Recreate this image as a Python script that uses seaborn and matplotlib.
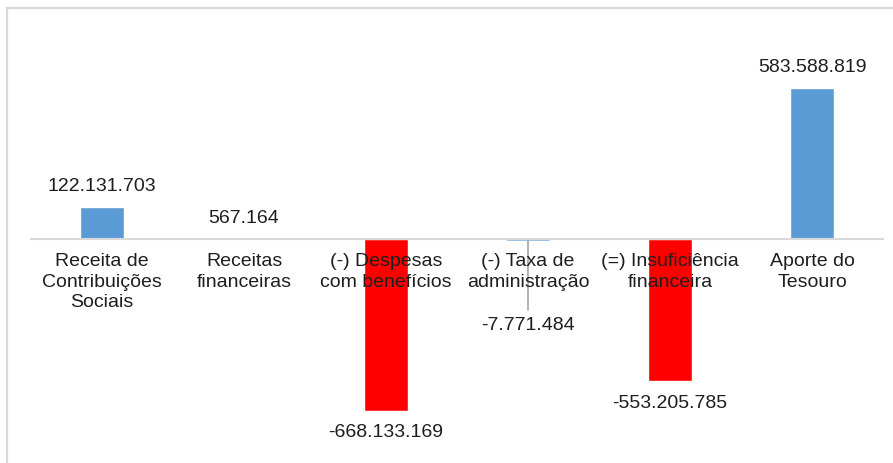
import matplotlib
matplotlib.use("Agg")
import matplotlib.pyplot as plt
import seaborn as sns
from matplotlib.patches import Rectangle

# dados do gráfico
categorias = [
    "Receita de Contribuições Sociais",
    "Receitas financeiras",
    "(-) Despesas com benefícios",
    "(-) Taxa de administração",
    "(=) Insuficiência financeira",
    "Aporte do Tesouro",
]
rotulos = [
    "Receita de\nContribuições\nSociais",
    "Receitas\nfinanceiras",
    "(-) Despesas\ncom benefícios",
    "(-) Taxa de\nadministração",
    "(=) Insuficiência\nfinanceira",
    "Aporte do\nTesouro",
]
valores = [122131703, 567164, -668133169, -7771484, -553205785, 583588819]
cores = ["#5B9BD5", "#5B9BD5", "#FF0000", "#5B9BD5", "#FF0000", "#5B9BD5"]

sns.set_theme(style="white")
plt.rcParams["font.family"] = ["Liberation Sans", "DejaVu Sans"]
cor_texto = "#1e1e1e"

fig = plt.figure(figsize=(8.93, 4.64), dpi=100)
ax = fig.add_axes([0, 0, 1, 1])

sns.barplot(x=categorias, y=valores, hue=categorias, palette=cores,
            width=0.31, saturation=1, legend=False, ax=ax)
ax.set_axisbelow(False)
ax.xaxis.set_zorder(5)

# escala igual à do original
px_cat = 142.0
xmin = -102 / px_cat
ax.set_xlim(xmin, xmin + 893 / px_cat)
px_por_m = 0.258
ax.set_ylim(-(464 - 239.5) / px_por_m * 1e6, 239.5 / px_por_m * 1e6)

for s in ["top", "right", "left"]:
    ax.spines[s].set_visible(False)
ax.spines["bottom"].set_position(("data", 0))
ax.spines["bottom"].set_bounds(-0.5, 5.5)
ax.spines["bottom"].set_color("#D9D9D9")
ax.spines["bottom"].set_linewidth(1.5)
ax.set_yticks([])
ax.set_xticks(range(len(rotulos)))
ax.set_xticklabels(rotulos, fontsize=14, color=cor_texto, linespacing=1.25)
ax.tick_params(axis="x", length=0, pad=10)
ax.set_xlabel("")
ax.set_ylabel("")

# rótulos de valor
for i, v in enumerate(valores):
    txt = f"{v:,}".replace(",", ".")
    if i == 3:
        ax.annotate(txt, xy=(i, v), xytext=(0, -84), textcoords="offset pixels",
                    ha="center", va="center", fontsize=14, color=cor_texto,
                    arrowprops=dict(arrowstyle="-", color="#A6A6A6", lw=1.2,
                                    shrinkA=2, shrinkB=0))
        continue
    off = 21 if v >= 0 else -21
    ax.annotate(txt, xy=(i, v), xytext=(0, off), textcoords="offset pixels",
                ha="center", va="center", fontsize=14, color=cor_texto)

# moldura cinza do gráfico
fig.patches.append(Rectangle((6.5 / 893, -0.1), 1.2, (464 - 9) / 464 + 0.1,
                             transform=fig.transFigure, fill=False,
                             edgecolor="#D9D9D9", lw=1.6))

fig.savefig("out.png", dpi=100)
